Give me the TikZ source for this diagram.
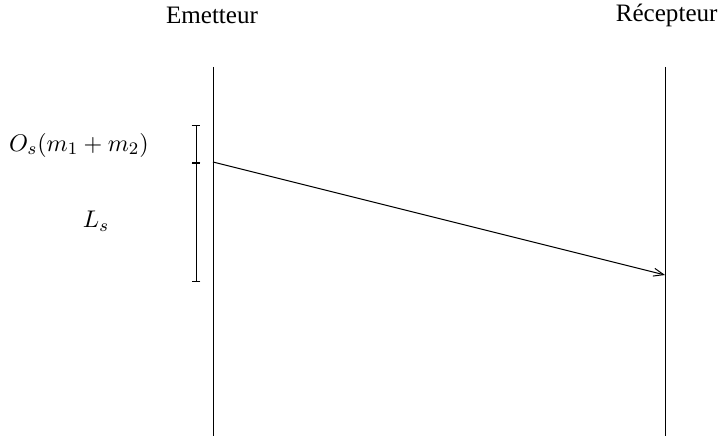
\documentclass[tikz,border=0pt]{standalone}
\usepackage{fontspec}
\setmainfont{Liberation Serif}
\usetikzlibrary{arrows.meta}
\begin{document}
\begin{tikzpicture}[x={(0.4545pt,0)}, y={(0,-0.4545pt)}, line width=0.45pt,
  lbl/.style={inner sep=0pt, font=\fontsize{11.4}{13}\selectfont},
  lifeline/.style={draw=black},
  msg/.style={-{Straight Barb[length=4.6pt,width=3.6pt]}, draw=black},
  tick/.style={{Bar[width=4pt]}-{Bar[width=4pt]}}]
\useasboundingbox (0,0) rectangle (719,436);
\node[lbl] (em) at (212,15) {Emetteur};
\node[lbl, anchor=east] (rec) at (718,15) {Récepteur};
\coordinate (eTop) at (213,67);
\coordinate (eBot) at (213,436);
\coordinate (rTop) at (665,67);
\coordinate (rBot) at (665,436);
\draw[lifeline] (eTop) -- (eBot);
\draw[lifeline] (rTop) -- (rBot);
% bracket
\coordinate (b1) at (196,125);
\coordinate (b2) at (196,163);
\coordinate (b3) at (196,282);
\draw[tick] (b1) -- (b2);
\draw[tick] (b2) -- (b3);
\node[lbl] (os) at (79,145) {$O_s(m_1+m_2)$};
\node[lbl] (ls) at (96,221) {$L_s$};
% message
\coordinate (mS) at (213,162);
\coordinate (mE) at (665,275);
\draw[msg] (mS) -- (mE);
\end{tikzpicture}
\end{document}
